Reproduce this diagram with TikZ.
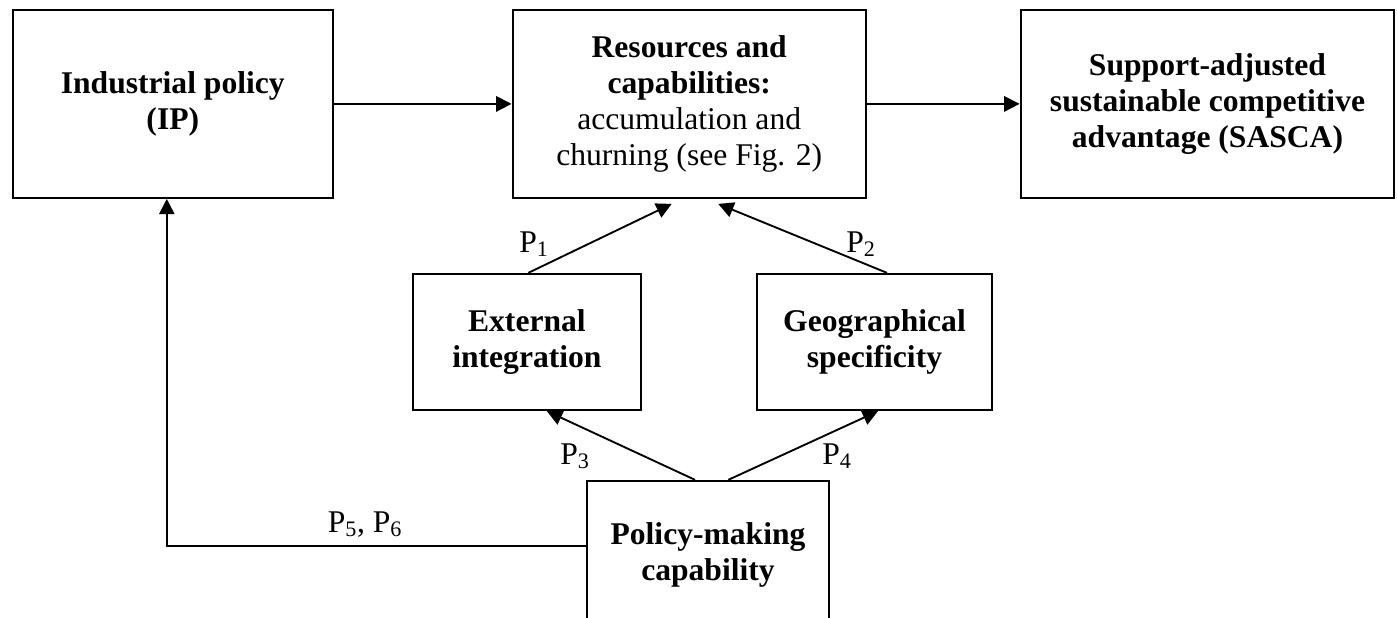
\documentclass[tikz,border=0pt]{standalone}
\usepackage{fontspec}
\setmainfont{Liberation Serif}
\usetikzlibrary{arrows.meta,calc}
\begin{document}
\begin{tikzpicture}[x=0.75pt,y=-0.75pt,
  box/.style={draw, line width=1.7pt, inner sep=0pt, align=center,
    font=\fontsize{23.7}{27}\selectfont},
  conn/.style={line width=1.4pt, -{Triangle[length=11.5pt,width=11.5pt]}},
  lbl/.style={font=\fontsize{23.7}{27}\selectfont, anchor=base, inner sep=0pt}]
\useasboundingbox (0,0) rectangle (1398,617);
\clip (0,0) rectangle (1398,617);
% top row
\node[box, minimum width=239.8pt, minimum height=140.8pt] (ip) at (172.8,103.9)
  {\textbf{Industrial policy}\\\textbf{(IP)}};
\node[box, minimum width=264.8pt, minimum height=140.8pt] (rc) at (689.2,103.9)
  {\textbf{Resources and}\\\textbf{capabilities:}\\accumulation and\\churning (see Fig. 2)};
\node[box, minimum width=280.2pt, minimum height=140.8pt] (sasca) at (1207.5,103.9)
  {\textbf{Support-adjusted}\\\textbf{sustainable competitive}\\\textbf{advantage (SASCA)}};
% middle row
\node[box, minimum width=171.2pt, minimum height=102pt] (ei) at (526.9,342)
  {\textbf{External}\\\textbf{integration}};
\node[box, minimum width=175.8pt, minimum height=102pt] (gs) at (874.5,342)
  {\textbf{Geographical}\\\textbf{specificity}};
% bottom
\node[box, minimum width=181.9pt, minimum height=110.3pt] (pmc) at (708,554.5)
  {\textbf{Policy-making}\\\textbf{capability}};
% connectors
\draw[conn] (ip.east) -- (rc.west);
\draw[conn] (rc.east) -- (sasca.west);
\draw[conn] ($(ei.north)+(1.4,0)$) -- ($(rc.south)+(-17.5,5)$);
\draw[conn] ($(gs.north)+(12.5,0)$) -- ($(rc.south)+(29,5)$);
\draw[conn] ($(pmc.north)+(-13,0)$) -- ($(ei.south)+(20,0)$);
\draw[conn] ($(pmc.north)+(20.3,0)$) -- ($(gs.south)+(3.5,0)$);
\draw[conn] ($(pmc.west)+(0,-8.5)$) -| ($(ip.south)+(-6,0)$);
% labels
\node[lbl] (l1) at (534,252) {P\textsubscript{1}};
\node[lbl] (l2) at (861,252) {P\textsubscript{2}};
\node[lbl] (l3) at (575,464) {P\textsubscript{3}};
\node[lbl] (l4) at (837,464) {P\textsubscript{4}};
\node[lbl] (l56) at (365,532) {P\textsubscript{5}, P\textsubscript{6}};
\end{tikzpicture}
\end{document}
